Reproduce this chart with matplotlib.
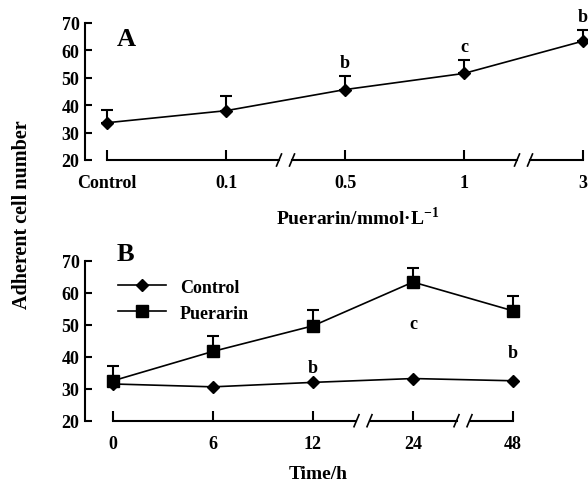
import matplotlib
matplotlib.use('Agg')
import matplotlib.pyplot as plt
from matplotlib.lines import Line2D

plt.rcParams['font.family'] = ['Liberation Serif', 'DejaVu Serif']
plt.rcParams['font.weight'] = 'bold'
plt.rcParams['axes.labelweight'] = 'bold'
plt.rcParams['mathtext.fontset'] = 'custom'
plt.rcParams['mathtext.rm'] = 'Liberation Serif:bold'
plt.rcParams['mathtext.bf'] = 'Liberation Serif:bold'

# Panel A : dose
dose_labels = ['Control', '0.1', '0.5', '1', '3']
dose_mean = [33.6, 38.0, 45.7, 51.6, 63.4]
dose_sd = [4.8, 5.2, 4.8, 4.8, 4.0]
dose_sig = ['', '', 'b', 'c', 'b']

# Panel B : time course
time_labels = ['0', '6', '12', '24', '48']
ctrl_mean = [31.5, 30.6, 32.0, 33.2, 32.5]
puer_mean = [32.5, 41.7, 49.7, 63.4, 54.4]
puer_sd = [4.7, 4.7, 4.9, 4.5, 4.7]
time_sig = ['', '', 'b', 'c', 'b']

fig = plt.figure(figsize=(5.88, 4.85), dpi=100)
W, H = 588, 485


def make_ax(left, top, right, bottom):
    return fig.add_axes([left / W, 1 - bottom / H, (right - left) / W, (bottom - top) / H])


def style_ax(ax, breaks, gap_px=13):
    for s in ['top', 'right', 'bottom']:
        ax.spines[s].set_visible(False)
    ax.spines['left'].set_linewidth(1.5)
    ax.set_ylim(20, 70)
    ax.set_yticks(range(20, 71, 10))
    ax.tick_params(axis='y', direction='in', length=5, width=1.5, pad=4, labelsize=13)
    ax.tick_params(axis='x', direction='in', length=7, width=1.5, pad=10, labelsize=13)
    # x axis drawn by hand, with the break marks
    n = len(ax.get_xticks())
    to_fig = fig.transFigure.inverted()
    y0 = ax.transData.transform((0, 20))[1]
    xs = [ax.transData.transform((i, 20))[0] for i in range(n)]
    pieces = [xs[0]]
    for b in breaks:
        xb = ax.transData.transform((b, 20))[0]
        pieces += [xb - gap_px / 2, xb + gap_px / 2]
    pieces.append(xs[-1])
    for i in range(0, len(pieces), 2):
        p = to_fig.transform([(pieces[i], y0), (pieces[i + 1], y0)])
        fig.add_artist(Line2D(p[:, 0], p[:, 1], color='black', lw=1.5,
                              transform=fig.transFigure))
    for b in breaks:
        xb = ax.transData.transform((b, 20))[0]
        for xc in (xb - gap_px / 2, xb + gap_px / 2):
            p = to_fig.transform([(xc - 2.5, y0 - 6), (xc + 2.5, y0 + 6)])
            fig.add_artist(Line2D(p[:, 0], p[:, 1], color='black', lw=1.2,
                                  transform=fig.transFigure))


# ---- Panel A
axA = make_ax(85, 24, 588, 161)
xA = list(range(len(dose_labels)))
axA.set_xlim(-0.185, 4.042)
axA.set_xticks(xA)
axA.set_xticklabels(dose_labels)
style_ax(axA, [1.5, 3.5])
axA.errorbar(xA, dose_mean, yerr=[[0] * 5, dose_sd], color='black', marker='D', ms=6,
             lw=1.2, elinewidth=1.5, capsize=4.5, capthick=1.5, clip_on=False)
for x, m, s, t in zip(xA, dose_mean, dose_sd, dose_sig):
    axA.annotate(t, (x, m + s), xytext=(0, 10), textcoords='offset points',
                 ha='center', va='center', fontsize=13, annotation_clip=False)
axA.text(0.064, 0.89, 'A', transform=axA.transAxes, fontsize=19, fontweight='bold', va='center')
axA.set_xlabel('Puerarin/mmol·L$^{-1}$', fontsize=14)
axA.xaxis.set_label_coords(0.543, -0.33)

# ---- Panel B
axB = make_ax(85, 262, 540, 421.7)
xB = list(range(len(time_labels)))
axB.set_xlim(-0.28, 4.27)
axB.set_xticks(xB)
axB.set_xticklabels(time_labels)
style_ax(axB, [2.5, 3.5])
axB.plot(xB, ctrl_mean, color='black', marker='D', ms=6, lw=1.2, label='Control', clip_on=False)
axB.errorbar(xB, puer_mean, yerr=[[0] * 5, puer_sd], color='black', marker='s', ms=8,
             lw=1.2, elinewidth=1.5, capsize=4.5, capthick=1.5, label='Puerarin', clip_on=False)
for x, m, t in zip(xB, puer_mean, time_sig):
    axB.annotate(t, (x, m), xytext=(0, -30), textcoords='offset points',
                 ha='center', va='center', fontsize=13)
axB.text(0.07, 1.05, 'B', transform=axB.transAxes, fontsize=19, fontweight='bold', va='center')
handles = [Line2D([], [], color='black', marker='D', ms=6, lw=1.2),
           Line2D([], [], color='black', marker='s', ms=8, lw=1.2)]
axB.legend(handles, ['Control', 'Puerarin'], loc='upper left', bbox_to_anchor=(0.072, 0.89),
           frameon=False, fontsize=13, handlelength=2.67, handletextpad=0.78,
           labelspacing=0.5, borderpad=0, borderaxespad=0)
axB.set_xlabel('Time/h', fontsize=14)
axB.xaxis.set_label_coords(0.512, -0.28)

fig.text(0.037, 0.557, 'Adherent cell number', rotation=90, ha='center', va='center',
         fontsize=14.5, fontweight='bold')

fig.savefig('out.png', dpi=100)
